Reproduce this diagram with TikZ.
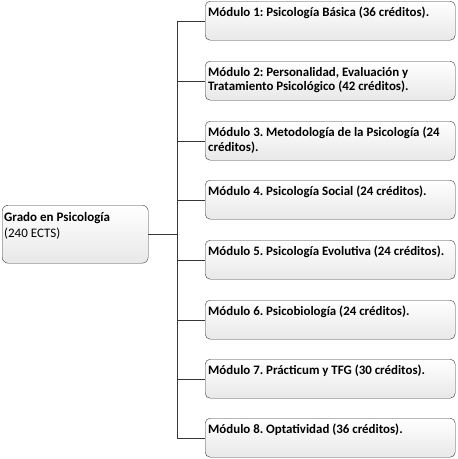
\documentclass[tikz,border=0pt]{standalone}
\usepackage{fontspec}
\setmainfont{Carlito}
\usetikzlibrary{positioning}
\definecolor{BoxLine}{RGB}{55,55,55}
\definecolor{BoxShade}{RGB}{232,232,232}
\frenchspacing

\newcommand{\modtext}[1]{\parbox[t][27pt][t]{244pt}{#1}}

\tikzset{
  modbox/.style={draw=BoxLine,rounded corners=5pt,top color=white,bottom color=BoxShade,
    anchor=north west,inner xsep=3pt,inner ysep=6pt,align=left,
    font=\bfseries\fontsize{12.9}{14.5}\selectfont},
  rootbox/.style={draw=BoxLine,rounded corners=6pt,top color=white,bottom color=BoxShade,
    anchor=north west,inner xsep=2pt,inner ysep=7pt,align=left,
    font=\fontsize{13}{16}\selectfont}
}

\begin{document}
\begin{tikzpicture}[x=1pt,y=-1pt]
      \useasboundingbox (0,0) rectangle (458,459);
      \node[rootbox] (root) at (2,205) {\parbox[t][44pt][t]{142pt}{\textbf{Grado en Psicología}\\(240 ECTS)}};
      \node[modbox] (m1) at (205,1) {\modtext{Módulo 1: Psicología Básica (36 créditos).}};
      \node[modbox] (m2) at (205,61) {\modtext{Módulo 2: Personalidad, Evaluación y\\Tratamiento Psicológico (42 créditos).}};
      \node[modbox] (m3) at (205,121) {\modtext{Módulo 3. Metodología de la Psicología (24\\créditos).}};
      \node[modbox] (m4) at (205,180) {\modtext{Módulo 4. Psicología Social (24 créditos).}};
      \node[modbox] (m5) at (205,240) {\modtext{Módulo 5. Psicología Evolutiva (24 créditos).}};
      \node[modbox] (m6) at (205,300) {\modtext{Módulo 6. Psicobiología (24 créditos).}};
      \node[modbox] (m7) at (205,359) {\modtext{Módulo 7. Prácticum y TFG (30 créditos).}};
      \node[modbox] (m8) at (205,418) {\modtext{Módulo 8. Optatividad (36 créditos).}};
      \coordinate (trunk) at (177,0);
      \draw[BoxLine] (root.east) -- (root.east -| trunk);
      \draw[BoxLine] (trunk |- m1.west) -- (trunk |- m8.west);
      \foreach \i in {1,...,8}
        \draw[BoxLine] (trunk |- m\i.west) -- (m\i.west);
    \end{tikzpicture}
\end{document}
